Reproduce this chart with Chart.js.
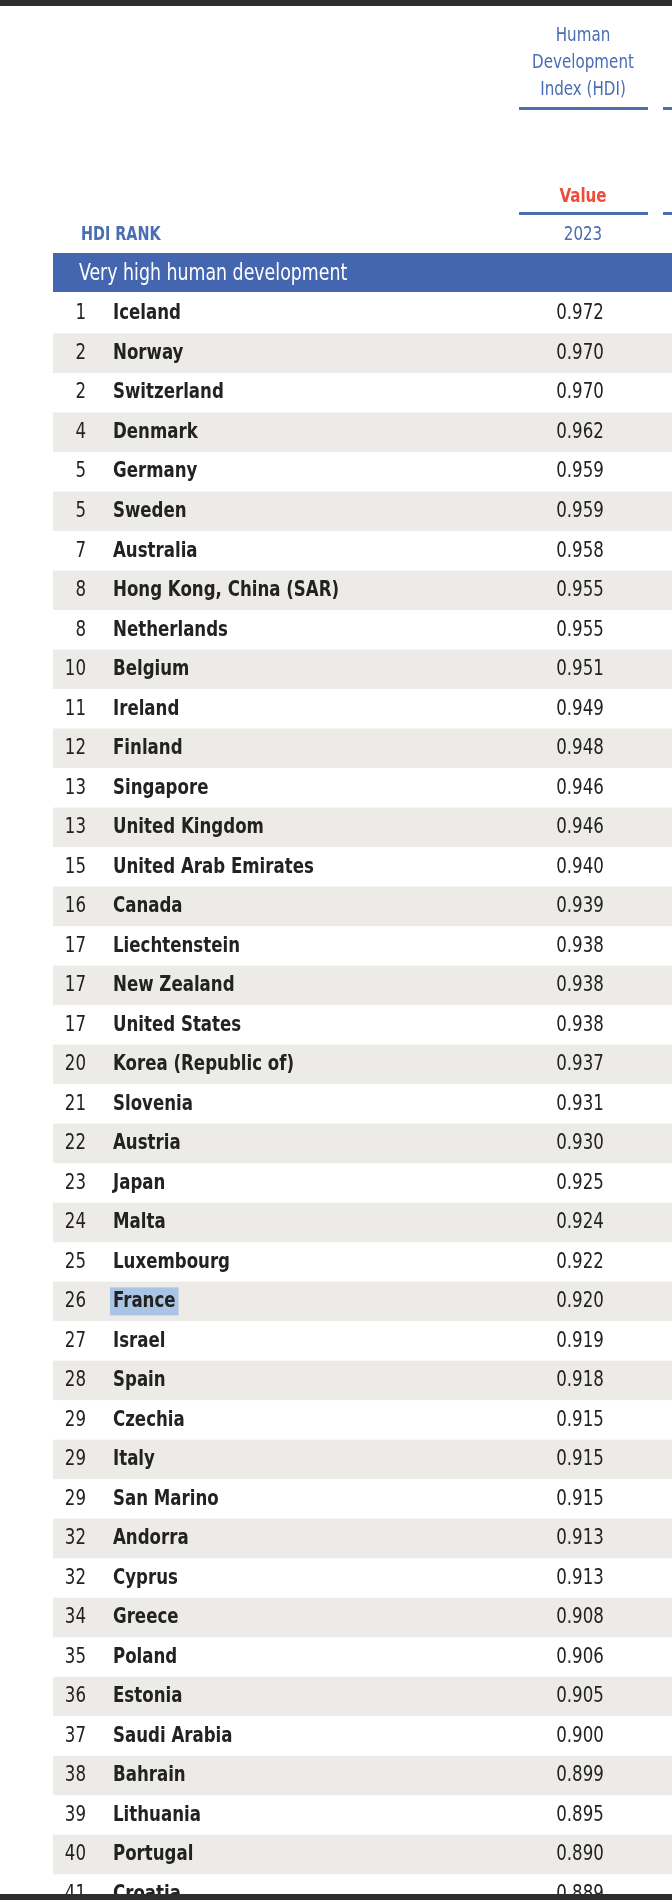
<!DOCTYPE html>
<html>
<head>
<meta charset="utf-8">
<script src="https://cdn.jsdelivr.net/npm/chart.js@4.4.0/dist/chart.umd.min.js"></script>
<style>
  html, body { margin: 0; padding: 0; background: #fff; }
  #wrap { width: 672px; height: 1900px; }
</style>
</head>
<body>
<div id="wrap"><canvas id="hdi" width="672" height="1900"></canvas></div>
<script>
// HDI table data
const ranks = ["1","2","2","4","5","5","7","8","8","10","11","12","13","13","15","16","17","17","17","20",
  "21","22","23","24","25","26","27","28","29","29","29","32","32","34","35","36","37","38","39","40","41"];
const countries = ["Iceland","Norway","Switzerland","Denmark","Germany","Sweden","Australia","Hong Kong, China (SAR)",
  "Netherlands","Belgium","Ireland","Finland","Singapore","United Kingdom","United Arab Emirates","Canada",
  "Liechtenstein","New Zealand","United States","Korea (Republic of)","Slovenia","Austria","Japan","Malta",
  "Luxembourg","France","Israel","Spain","Czechia","Italy","San Marino","Andorra","Cyprus","Greece","Poland",
  "Estonia","Saudi Arabia","Bahrain","Lithuania","Portugal","Croatia"];
const hdiValues = [0.972,0.970,0.970,0.962,0.959,0.959,0.958,0.955,0.955,0.951,0.949,0.948,0.946,0.946,0.940,
  0.939,0.938,0.938,0.938,0.937,0.931,0.930,0.925,0.924,0.922,0.920,0.919,0.918,0.915,0.915,0.915,0.913,0.913,
  0.908,0.906,0.905,0.900,0.899,0.895,0.890,0.889];
const groupLabel = "Very high human development";
const highlighted = "France";

const FONT = "'DejaVu Sans Condensed', 'Liberation Sans', sans-serif";
const BLUE = "#4466b0";
const HEAD_BLUE = "#4a6db3";
const SQUEEZE = 0.84;

// draw text squeezed horizontally to mimic the condensed face
function narrowText(ctx, text, x, y) {
  ctx.save();
  ctx.translate(x, y);
  ctx.scale(SQUEEZE, 1);
  ctx.fillText(text, 0, 0);
  ctx.restore();
}

const tablePlugin = {
  id: "hdiTable",
  beforeDatasetsDraw(chart) {
    const ctx = chart.ctx;
    const y = chart.scales.y;
    const half = Math.abs(y.getPixelForValue(1) - y.getPixelForValue(0)) / 2;
    ctx.save();
    countries.forEach((c, i) => {
      if (i % 2 === 1) {
        ctx.fillStyle = "#ecebe8";
        const py = y.getPixelForValue(i);
        ctx.fillRect(53, py - half, 672 - 53, half * 2);
      }
    });
    ctx.restore();
  },
  afterDatasetsDraw(chart) {
    const ctx = chart.ctx;
    const meta = chart.getDatasetMeta(0);
    ctx.save();
    ctx.textBaseline = "middle";
    meta.data.forEach((pt, i) => {
      const py = pt.y;
      ctx.font = "22px " + FONT;
      ctx.fillStyle = "#222";
      ctx.textAlign = "right";
      narrowText(ctx, ranks[i], 86, py);
      ctx.font = "bold 22px " + FONT;
      if (countries[i] === highlighted) {
        const w = ctx.measureText(countries[i]).width * SQUEEZE;
        ctx.fillStyle = "#aac4e4";
        ctx.fillRect(110, py - 14, w + 6, 28);
      }
      ctx.fillStyle = "#222";
      ctx.textAlign = "left";
      narrowText(ctx, countries[i], 113, py);
      ctx.font = "22px " + FONT;
      ctx.textAlign = "center";
      narrowText(ctx, hdiValues[i].toFixed(3), 580, py);
    });

    // header block
    ctx.fillStyle = "#fff";
    ctx.fillRect(0, 0, 672, 294);
    ctx.fillStyle = "#2e2e2e";
    ctx.fillRect(0, 0, 672, 6);
    ctx.fillStyle = HEAD_BLUE;
    ctx.textAlign = "center";
    ctx.font = "20px " + FONT;
    narrowText(ctx, "Human", 583, 36);
    narrowText(ctx, "Development", 583, 63);
    narrowText(ctx, "Index (HDI)", 583, 90);
    ctx.fillRect(519, 107, 129, 3);
    ctx.fillRect(663, 107, 9, 3);
    ctx.fillStyle = "#f04a3a";
    ctx.font = "bold 20px " + FONT;
    narrowText(ctx, "Value", 583, 197);
    ctx.fillStyle = HEAD_BLUE;
    ctx.fillRect(519, 212, 129, 3);
    ctx.fillRect(663, 212, 9, 3);
    ctx.font = "20px " + FONT;
    narrowText(ctx, "2023", 583, 235);
    ctx.textAlign = "left";
    ctx.font = "bold 19px " + FONT;
    narrowText(ctx, "HDI RANK", 81, 235);
    // group band
    ctx.fillStyle = BLUE;
    ctx.fillRect(53, 253, 619, 39);
    ctx.fillStyle = "#fff";
    ctx.font = "23px " + FONT;
    narrowText(ctx, groupLabel, 79, 274);
    // bottom dark bar
    ctx.fillStyle = "#2e2e2e";
    ctx.fillRect(0, 1894, 672, 6);
    ctx.restore();
  }
};

new Chart(document.getElementById("hdi"), {
  type: "scatter",
  data: {
    datasets: [{
      data: hdiValues.map((v, i) => ({ x: v, y: i })),
      pointRadius: 0
    }]
  },
  options: {
    responsive: false,
    animation: false,
    devicePixelRatio: 1,
    layout: { padding: { top: 294, bottom: 6, left: 0, right: 0 } },
    plugins: { legend: { display: false }, tooltip: { enabled: false } },
    scales: {
      x: { display: false, min: 0.8, max: 1.0 },
      y: { display: false, reverse: true, min: -0.5, max: 40 }
    }
  },
  plugins: [tablePlugin]
});
</script>
</body>
</html>
